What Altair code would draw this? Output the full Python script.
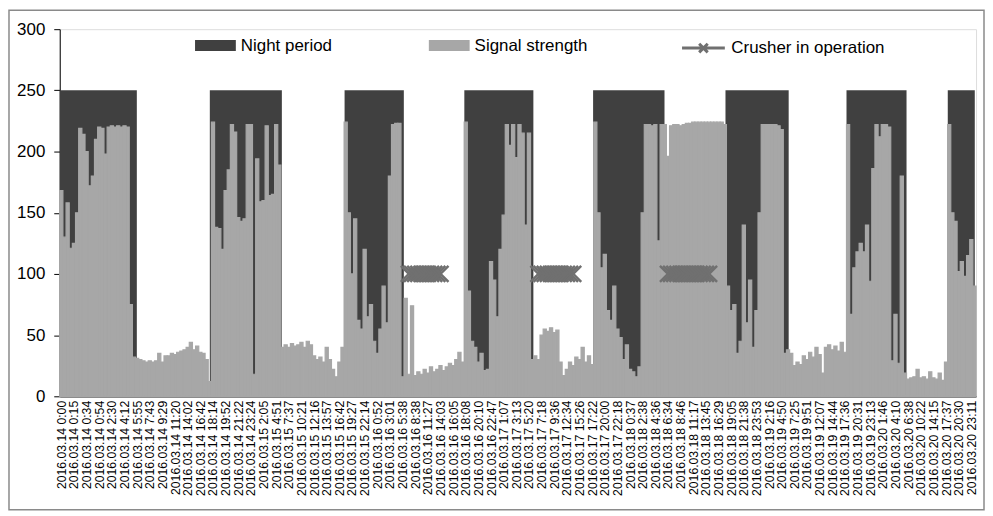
import altair as alt
import pandas as pd

# ---------------- data ----------------
tick_labels = [
    "2016.03.14 0:00", "2016.03.14 0:15", "2016.03.14 0:34", "2016.03.14 0:54",
    "2016.03.14 2:30", "2016.03.14 4:12", "2016.03.14 5:55", "2016.03.14 7:43",
    "2016.03.14 9:29", "2016.03.14 11:20", "2016.03.14 14:02", "2016.03.14 16:42",
    "2016.03.14 18:14", "2016.03.14 19:52", "2016.03.14 21:22", "2016.03.14 23:24",
    "2016.03.15 2:05", "2016.03.15 4:51", "2016.03.15 7:37", "2016.03.15 10:21",
    "2016.03.15 12:16", "2016.03.15 13:57", "2016.03.15 16:42", "2016.03.15 19:27",
    "2016.03.15 22:14", "2016.03.16 0:52", "2016.03.16 3:01", "2016.03.16 5:38",
    "2016.03.16 8:38", "2016.03.16 11:27", "2016.03.16 14:03", "2016.03.16 16:05",
    "2016.03.16 18:08", "2016.03.16 20:10", "2016.03.16 22:47", "2016.03.17 1:07",
    "2016.03.17 3:13", "2016.03.17 5:20", "2016.03.17 7:18", "2016.03.17 9:36",
    "2016.03.17 12:34", "2016.03.17 15:26", "2016.03.17 17:22", "2016.03.17 20:00",
    "2016.03.17 22:18", "2016.03.18 0:37", "2016.03.18 2:38", "2016.03.18 4:36",
    "2016.03.18 6:34", "2016.03.18 8:46", "2016.03.18 11:17", "2016.03.18 13:45",
    "2016.03.18 16:29", "2016.03.18 19:05", "2016.03.18 21:38", "2016.03.18 23:53",
    "2016.03.19 2:16", "2016.03.19 4:50", "2016.03.19 7:25", "2016.03.19 9:51",
    "2016.03.19 12:07", "2016.03.19 14:44", "2016.03.19 17:36", "2016.03.19 20:31",
    "2016.03.19 23:13", "2016.03.20 1:46", "2016.03.20 4:10", "2016.03.20 6:38",
    "2016.03.20 10:22", "2016.03.20 14:15", "2016.03.20 17:37", "2016.03.20 20:30",
    "2016.03.20 23:11",
]
samples_per_label = 4

signal_strength = [
    168, 130, 158, 121, 125, 150, 219, 214, 200, 172, 180, 210, 220, 219, 198, 220, 221, 220, 221, 220, 221, 220, 75, 32, 31,
    30, 29, 28, 29, 28, 29, 35, 28, 33, 33, 35, 34, 36, 37, 38, 40, 44, 38, 41, 36, 35, 30, 12,
    224, 138, 137, 120, 168, 185, 222, 216, 146, 143, 145, 222, 222, 18, 194, 159, 160, 221, 164, 165, 222, 189,
    40, 42, 40, 43, 41, 42, 44, 40, 45, 42, 33, 30, 32, 28, 40, 30, 22, 16, 28, 40,
    224, 150, 100, 145, 62, 55, 120, 65, 75, 45, 35, 55, 90, 60, 180, 222, 223, 223, 16,
    80, 18, 74, 17, 20, 18, 22, 19, 24, 20, 22, 25, 21, 24, 27, 25, 30, 36, 28,
    224, 86, 45, 40, 28, 35, 21, 22, 110, 95, 65, 120, 148, 222, 205, 222, 195, 222, 215, 140, 215, 30,
    33, 30, 50, 55, 53, 56, 52, 54, 28, 17, 22, 28, 25, 32, 30, 40, 28, 33, 26,
    224, 150, 105, 116, 70, 62, 90, 55, 48, 30, 42, 22, 20, 16, 24, 150, 222, 222, 221, 222, 127, 222, 222,
    196, 221, 222, 222, 221, 222, 223, 223, 224, 224, 224, 224, 224, 224, 224, 224, 224, 224, 222,
    90, 70, 75, 35, 45, 140, 60, 95, 40, 70, 150, 222, 222, 222, 222, 222, 221, 218, 35, 38,
    35, 25, 28, 26, 33, 30, 36, 32, 40, 34, 19, 40, 42, 38, 41, 37, 44, 36,
    222, 67, 105, 118, 125, 118, 140, 94, 186, 222, 212, 222, 222, 220, 29, 67, 27, 180, 19,
    14, 15, 16, 22, 15, 16, 14, 20, 15, 14, 19, 13, 28,
    222, 150, 143, 102, 110, 98, 115, 128, 90,
]

# night periods, in sample positions
night_start = [0, 47.5, 90.15, 128.05, 168.8, 210.7, 249.0, 281.05]
night_end = [24.4, 70.3, 108.9, 149.9, 191.4, 230.7, 268.0, 289.6]
night_level = 250

# samples during which the crusher was running
crusher_runs = [
    [110, 111, 112, 113, 114, 115, 116, 117, 118, 119, 120],
    [151, 152, 153, 154, 155, 156, 157, 158, 159, 160, 161, 162],
    [192, 193, 194, 195, 196, 197, 198, 199, 200, 201, 202, 203, 204, 205],
]
crusher_level = 100

# ---------------- tables ----------------
n = len(signal_strength)
sig_df = pd.DataFrame({
    "i": list(range(n)),
    "i2": [k + 1 for k in range(n)],
    "v": signal_strength,
    "series": ["Signal strength"] * n,
})
night_df = pd.DataFrame({
    "s": night_start, "e": night_end,
    "top": [night_level] * len(night_start),
    "series": ["Night period"] * len(night_start),
})
rows = []
for seg, run in enumerate(crusher_runs):
    for k in run:
        rows.append({"c": k + 0.5, "v": crusher_level, "seg": seg, "series": "Crusher in operation"})
cr_df = pd.DataFrame(rows)

FONT = "Liberation Sans"
DARK = "#404040"
LIGHT = "#a7a7a7"
CRUSH = "#707070"

x_scale = alt.Scale(domain=[0, n], nice=False, zero=False)
y_scale = alt.Scale(domain=[0, 300], nice=False)

label_arr = "[" + ",".join("'" + s + "'" for s in tick_labels) + "]"
x_axis = alt.Axis(
    values=[samples_per_label * k + 0.5 for k in range(len(tick_labels))],
    labelExpr=label_arr + "[floor(datum.value/" + str(samples_per_label) + ")]",
    labelAngle=-90, labelOverlap=False, labelFlush=False, ticks=False,
    labelPadding=4, labelFontSize=12.3, labelFont=FONT, labelColor="black",
    domainColor="#222222", domainWidth=1.5, grid=False, title=None,
)
y_axis = alt.Axis(
    values=[0, 50, 100, 150, 200, 250, 300], tickSize=6, tickColor="black",
    labelPadding=9, labelFontSize=17, labelFont=FONT, labelColor="black",
    domainColor="black", grid=False, title=None,
)

def X(field):
    return alt.X(field, scale=x_scale, axis=x_axis)

def Y(field):
    return alt.Y(field, scale=y_scale, axis=y_axis)

rect_sym = "M-1,-0.27H1V0.27H-1Z"

night = alt.Chart(night_df).mark_rect().encode(
    x=X("s:Q"), x2="e:Q", y=Y("top:Q"), y2=alt.datum(0),
    fill=alt.Fill("series:N", scale=alt.Scale(domain=["Night period"], range=[DARK]),
                  legend=alt.Legend(title=None, orient="none", legendX=136, legendY=-4,
                                    symbolType=rect_sym, symbolSize=1681, symbolStrokeWidth=0,
                                    labelFontSize=17, labelFont=FONT, labelColor="black",
                                    labelOffset=5, padding=0)),
)

signal = alt.Chart(sig_df).mark_rect(strokeWidth=1.2, stroke=LIGHT).encode(
    x=X("i:Q"), x2="i2:Q", y=Y("v:Q"), y2=alt.datum(0),
    color=alt.Color("series:N", scale=alt.Scale(domain=["Signal strength"], range=[LIGHT]),
                    legend=alt.Legend(title=None, orient="none", legendX=371, legendY=-4,
                                      symbolType=rect_sym, symbolSize=1681, symbolStrokeWidth=0,
                                      labelFontSize=17, labelFont=FONT, labelColor="black",
                                      labelOffset=5, padding=0)),
)

crusher_stroke = alt.Stroke(
    "series:N", scale=alt.Scale(domain=["Crusher in operation"], range=[CRUSH]),
    legend=alt.Legend(title=None, orient="none", legendX=624, legendY=-4,
                      symbolType="M-1,0H1M-0.2,-0.2L0.2,0.2M-0.2,0.2L0.2,-0.2",
                      symbolSize=1849, symbolStrokeWidth=3, symbolFillColor="transparent",
                      labelFontSize=17, labelFont=FONT, labelColor="black",
                      labelOffset=5, padding=0),
)

cr_line = alt.Chart(cr_df).mark_line(strokeWidth=12, strokeCap="butt").encode(
    x=X("c:Q"), y=Y("v:Q"), detail="seg:N", stroke=crusher_stroke,
)
cr_pts = alt.Chart(cr_df).mark_point(
    shape="M-1,-1L1,1M-1,1L1,-1", size=260, strokeWidth=2.5, filled=False, opacity=1,
).encode(x=X("c:Q"), y=Y("v:Q"), stroke=crusher_stroke)

frame = alt.Chart(pd.DataFrame({"f": [0]})).mark_rect(
    fill="white", fillOpacity=0, stroke="#8a8a8a", strokeWidth=1.5,
).encode(x=alt.value(-51), x2=alt.value(929), y=alt.value(-19), y2=alt.value(483))

chart = alt.layer(night, signal, cr_line, cr_pts, frame).properties(
    width=921, height=369, padding=0,
).configure_view(stroke=None).configure(font=FONT)

chart.save("out.html", embed_options={"renderer": "svg", "actions": False})
